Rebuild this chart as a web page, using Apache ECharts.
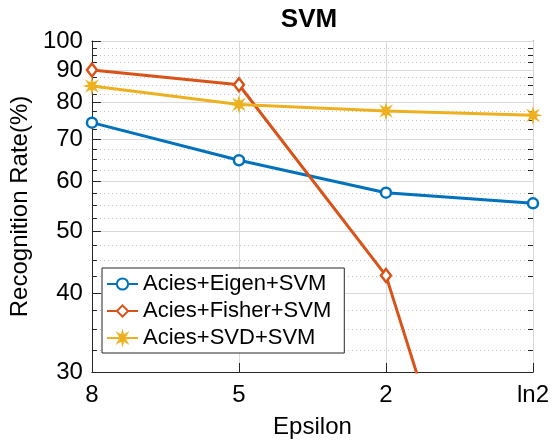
<!DOCTYPE html>
<html>
<head>
<meta charset="utf-8">
<style>
  html, body { margin: 0; padding: 0; background: #ffffff; }
  #chart { width: 554px; height: 445px; }
</style>
<script src="https://cdn.jsdelivr.net/npm/echarts@6/dist/echarts.min.js"></script>
</head>
<body>
<div id="chart"></div>
<script>
// Epsilon settings along the x axis
const categories = ['8', '5', '2', 'ln2'];

// Recognition rate (%) for each method
const eigenSvm = [74.3, 64.8, 57.6, 55.4];
const fisherSvm = [90.0, 85.3, 42.6, 7.8];
const svdSvm = [84.9, 79.4, 77.5, 76.3];

const seriesNames = ['Acies+Eigen+SVM', 'Acies+Fisher+SVM', 'Acies+SVD+SVM'];

// Log-scale y ticks: labelled majors and dotted minors
const yMajorTicks = [30, 40, 50, 60, 70, 80, 90, 100];
const yMinorTicks = [32.5, 35, 37.5, 42.5, 45, 47.5, 52.5, 55, 57.5, 62.5, 65, 67.5,
                     72.5, 75, 77.5, 82.5, 85, 87.5, 92.5, 95, 97.5];

const FONT = '"Liberation Sans", Arial, Helvetica, sans-serif';
const AXIS_COLOR = '#262626';
const GRID_COLOR = '#d9d9d9';
const MINOR_GRID_COLOR = '#c2c2c2';
const COLORS = ['#0072BD', '#D95319', '#EDB120'];
// Eight-pointed asterisk marker (filled star outline)
const ASTERISK = 'path://M1,0L0.3696,0.1531L0.7071,0.7071L0.1531,0.3696L0,1L-0.1531,0.3696L-0.7071,0.7071' +
  'L-0.3696,0.1531L-1,0L-0.3696,-0.1531L-0.7071,-0.7071L-0.1531,-0.3696L0,-1L0.1531,-0.3696' +
  'L0.7071,-0.7071L0.3696,-0.1531Z';

const Y_MIN = 30, Y_MAX = 100;

function yAxisBase(position, ticks, tickLen) {
  return {
    type: 'log',
    logBase: 10,
    min: Y_MIN,
    max: Y_MAX,
    position: position,
    axisLine: { show: false },
    axisTick: { show: true, inside: true, length: tickLen, customValues: ticks,
                lineStyle: { color: AXIS_COLOR, width: 1 } },
    axisLabel: { show: false },
    splitLine: { show: false },
    minorTick: { show: false },
    minorSplitLine: { show: false }
  };
}

const yMain = yAxisBase('left', yMajorTicks, 9);
yMain.axisLine = { show: true, lineStyle: { color: AXIS_COLOR, width: 1 } };
yMain.axisLabel = {
  show: true,
  customValues: yMajorTicks,
  margin: 9,
  color: '#000',
  fontFamily: FONT,
  fontSize: 24,
  formatter: v => String(Math.round(v))
};
yMain.splitLine = { show: true, lineStyle: { color: GRID_COLOR, width: 1, type: 'solid' } };
yMain.name = 'Recognition Rate(%)';
yMain.nameLocation = 'middle';
yMain.nameGap = 45;
yMain.nameTextStyle = { color: '#000', fontFamily: FONT, fontSize: 24 };
yMain.z = 3;

const yMinorLeft = yAxisBase('left', yMinorTicks, 5);
yMinorLeft.splitLine = { show: true, lineStyle: { color: MINOR_GRID_COLOR, width: 1, type: [1, 3] } };

const yRight = yAxisBase('right', yMajorTicks, 9);
yRight.axisLine = { show: true, lineStyle: { color: AXIS_COLOR, width: 1 } };

const yMinorRight = yAxisBase('right', yMinorTicks, 5);

function lineSeries(name, data, color, symbol, symbolSize, fill, borderWidth) {
  return {
    name: name,
    type: 'line',
    xAxisIndex: 0,
    yAxisIndex: 0,
    data: data,
    clip: true,
    symbol: symbol,
    symbolSize: symbolSize,
    showAllSymbol: true,
    lineStyle: { color: color, width: 3 },
    itemStyle: { color: fill, borderColor: color, borderWidth: borderWidth },
    emphasis: { disabled: true },
    animation: false
  };
}

const option = {
  backgroundColor: '#ffffff',
  animation: false,
  title: {
    text: 'SVM',
    left: 309,
    textAlign: 'center',
    top: 7,
    padding: 0,
    textStyle: { color: '#000', fontFamily: FONT, fontSize: 26, fontWeight: 'bold' }
  },
  grid: { left: 86, right: 21, top: 41, bottom: 73, containLabel: false },
  legend: {
    orient: 'vertical',
    left: 102,
    top: 268,
    padding: [5, 13, 4, 4],
    itemGap: 5,
    itemWidth: 31,
    itemHeight: 14,
    backgroundColor: '#ffffff',
    borderColor: AXIS_COLOR,
    borderWidth: 1,
    textStyle: { color: '#000', fontFamily: FONT, fontSize: 22 },
    data: seriesNames
  },
  xAxis: [
    {
      type: 'category',
      data: categories,
      position: 'bottom',
      boundaryGap: false,
      axisLine: { show: true, lineStyle: { color: AXIS_COLOR, width: 1 } },
      axisTick: { show: true, inside: true, length: 9, lineStyle: { color: AXIS_COLOR, width: 1 } },
      axisLabel: { margin: 11, color: '#000', fontFamily: FONT, fontSize: 24 },
      splitLine: { show: true, lineStyle: { color: GRID_COLOR, width: 1 } },
      name: 'Epsilon',
      nameLocation: 'middle',
      nameGap: 43,
      nameTextStyle: { color: '#000', fontFamily: FONT, fontSize: 24 },
      z: 3
    },
    {
      type: 'category',
      data: categories,
      position: 'top',
      boundaryGap: false,
      axisLine: { show: true, lineStyle: { color: AXIS_COLOR, width: 1 } },
      axisTick: { show: true, inside: true, length: 9, lineStyle: { color: AXIS_COLOR, width: 1 } },
      axisLabel: { show: false },
      splitLine: { show: false }
    }
  ],
  yAxis: [yMain, yMinorLeft, yRight, yMinorRight],
  series: [
    lineSeries(seriesNames[0], eigenSvm, COLORS[0], 'circle', 10, '#ffffff', 2.5),
    lineSeries(seriesNames[1], fisherSvm, COLORS[1], 'diamond', [10, 13], '#ffffff', 2.5),
    lineSeries(seriesNames[2], svdSvm, COLORS[2], ASTERISK, 13, COLORS[2], 1.5)
  ]
};

const chart = echarts.init(document.getElementById('chart'), null, { renderer: 'canvas' });
chart.setOption(option);
</script>
</body>
</html>
